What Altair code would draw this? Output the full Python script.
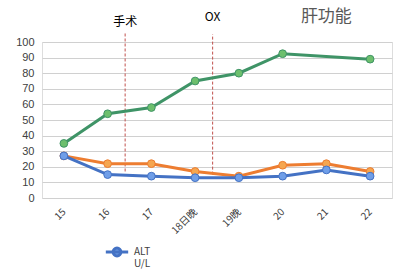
import altair as alt
import pandas as pd

days = ["15", "16", "17", "18日晚", "19晚", "20", "21", "22"]
green_vals = [35, 54, 58, 75, 80, 92.5, None, 89]
orange_vals = [27, 22, 22, 17, 14, 21, 22, 17]
blue_vals = [27, 15, 14, 13, 13, 14, 18, 14]

event_pos = [1.4, 3.4]
event_labels = ["手术", "OX"]
event_bottom = [17, 15]
event_top = [106, 105]
label_y = [113, 116]

title_text = ["肝功能"]
title_x = [6.0]
title_y = [116]

FONT = "Noto Sans CJK SC"

rows = []
for i, d in enumerate(days):
    rows.append({"i": i, "day": d, "series": "AST", "v": green_vals[i]})
    rows.append({"i": i, "day": d, "series": "TBIL", "v": orange_vals[i]})
    rows.append({"i": i, "day": d, "series": "ALT U/L", "v": blue_vals[i]})
df = pd.DataFrame(rows).dropna()

ev = pd.DataFrame({"x": event_pos, "label": event_labels,
                   "y1": event_bottom, "y2": event_top, "ly": label_y})
tt = pd.DataFrame({"x": title_x, "y": title_y, "t": title_text})

label_expr = "[" + ",".join(f"'{d}'" for d in days) + "][datum.value]"

xs = alt.Scale(domain=[-0.5, 7.5], nice=False, zero=False)
ys = alt.Scale(domain=[0, 100], nice=False)

x_axis = alt.Axis(values=list(range(8)), labelExpr=label_expr, labelAngle=-45,
                  labelAlign="right", labelBaseline="middle",
                  grid=False, domain=False, ticks=False, title=None,
                  labelFont=FONT, labelFontSize=10, labelColor="#404040",
                  labelPadding=12, labelOverlap=False)
y_axis = alt.Axis(values=list(range(0, 101, 10)), grid=True, gridColor="#d0d0d0",
                  domain=False, ticks=False, title=None, labelFont="Liberation Sans",
                  labelFontSize=11, labelColor="#404040", labelPadding=8,
                  labelOverlap=False)

def series_layer(name, line_color, pt_color, legend=False):
    d = df[df.series == name]
    base = alt.Chart(d)
    if legend:
        color = alt.Color("series:N",
                          scale=alt.Scale(domain=["ALT U/L"], range=[line_color]),
                          legend=alt.Legend(title=None, orient="none", legendX=62, legendY=197,
                                            symbolType="M-1,0L1,0M-0.35,0A0.35,0.35,0,1,1,0.35,0A0.35,0.35,0,1,1,-0.35,0",
                                            symbolSize=500, symbolStrokeWidth=3,
                                            symbolFillColor=pt_color, symbolStrokeColor=line_color,
                                            labelFont=FONT, labelFontSize=10, labelColor="#404040",
                                            labelExpr="['ALT','U/L']", labelOffset=4))
    else:
        color = alt.value(line_color)
    line = base.mark_line(strokeWidth=3).encode(
        x=alt.X("i:Q", scale=xs, axis=x_axis),
        y=alt.Y("v:Q", scale=ys, axis=y_axis),
        color=color,
    )
    pts = base.mark_point(filled=True, size=60, opacity=1, color=pt_color,
                          stroke=line_color, strokeWidth=1).encode(
        x=alt.X("i:Q", scale=xs, axis=x_axis),
        y=alt.Y("v:Q", scale=ys, axis=y_axis),
    )
    return line + pts

green = series_layer("AST", "#3f9467", "#6dbf6d")
orange = series_layer("TBIL", "#ed7d31", "#f5a650")
blue = series_layer("ALT U/L", "#4472c4", "#6f9ee8", legend=True)

rules = alt.Chart(ev).mark_rule(color="#c0504d", strokeDash=[3, 2], strokeWidth=1).encode(
    x=alt.X("x:Q", scale=xs, axis=x_axis), y=alt.Y("y1:Q", scale=ys, axis=y_axis), y2="y2:Q")
texts = alt.Chart(ev).mark_text(font=FONT, fontSize=12, color="#000000").encode(
    x=alt.X("x:Q", scale=xs, axis=x_axis), y=alt.Y("ly:Q", scale=ys, axis=y_axis),
    text="label:N")
title = alt.Chart(tt).mark_text(font=FONT, fontSize=17, color="#595959").encode(
    x=alt.X("x:Q", scale=xs, axis=x_axis), y=alt.Y("y:Q", scale=ys, axis=y_axis),
    text="t:N")

chart = alt.layer(rules, green, orange, blue, texts, title).properties(
    width=350, height=156,
    autosize=alt.AutoSizeParams(type="none"),
    padding={"left": 42, "top": 42, "right": 21, "bottom": 73},
).configure_view(stroke=None).configure(background="white")

chart.save("out.html", embed_options={"renderer": "svg", "actions": False})
